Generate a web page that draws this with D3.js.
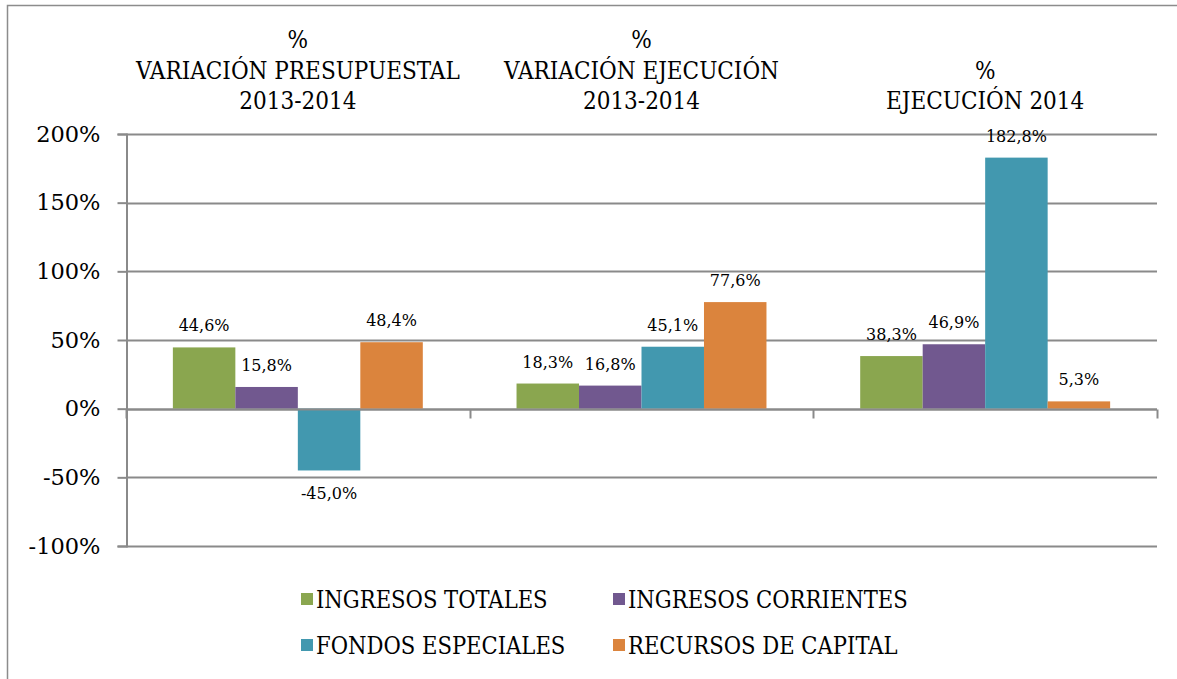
<!DOCTYPE html>
<html><head><meta charset="utf-8">
<script src="https://cdn.jsdelivr.net/npm/d3@7"></script>
<style>
html,body{margin:0;padding:0;background:#fff;}
svg{display:block;}
text{font-family:"DejaVu Serif Condensed","DejaVu Serif",serif;fill:#000;}
</style></head>
<body>
<svg id="chart" width="1177" height="679"></svg>
<script>
// ---- data ----
const categories = [
  ["%", "VARIACIÓN PRESUPUESTAL", "2013-2014"],
  ["%", "VARIACIÓN EJECUCIÓN", "2013-2014"],
  ["%", "EJECUCIÓN 2014"]
];
const seriesNames = ["INGRESOS TOTALES", "INGRESOS CORRIENTES", "FONDOS ESPECIALES", "RECURSOS DE CAPITAL"];
const seriesColors = ["#8AA64F", "#71588F", "#4298AF", "#DB843D"];
const ingresosTotales     = [44.6, 18.3, 38.3];
const ingresosCorrientes  = [15.8, 16.8, 46.9];
const fondosEspeciales    = [-45.0, 45.1, 182.8];
const recursosCapital     = [48.4, 77.6, 5.3];
const yTicks = [-100, -50, 0, 50, 100, 150, 200];

const seriesValues = [ingresosTotales, ingresosCorrientes, fondosEspeciales, recursosCapital];

const svg = d3.select("#chart");
const W = 1177, H = 679;
const plot = {left: 126, right: 1157, top: 134, bottom: 546};

// outer frame
svg.append("path")
  .attr("d", `M7.5,${H} L7.5,5.5 L${W},5.5`)
  .attr("fill", "none").attr("stroke", "#8C8C8C").attr("stroke-width", 1.5);

const y = d3.scaleLinear().domain([-100, 200]).range([plot.bottom, plot.top]);
const x0 = d3.scaleBand().domain(d3.range(categories.length)).range([plot.left, plot.right])
  .paddingInner(0).paddingOuter(0);
const bw = x0.bandwidth();
// Excel gap width 150%: band = 4*bar + 1.5*bar
const barW = bw / 5.5;
const x1 = d3.scaleBand().domain(d3.range(seriesNames.length))
  .range([barW*0.75, bw - barW*0.75]).padding(0);

const gridColor = "#8A8A8A";
const numFont = '"DejaVu Serif",serif';
const fmt = v => d3.format(".1f")(v).replace(".", ",").replace("\u2212", "-") + "%";

// gridlines
svg.append("g").selectAll("line").data(yTicks).join("line")
  .attr("x1", plot.left).attr("x2", plot.right)
  .attr("y1", d => Math.round(y(d)) + 0.5).attr("y2", d => Math.round(y(d)) + 0.5)
  .attr("stroke", gridColor).attr("stroke-width", 2);

// y axis
const yAxis = d3.axisLeft(y).tickValues(yTicks).tickSize(9).tickPadding(17)
  .tickFormat(d => d + "%");
const gy = svg.append("g").attr("transform", `translate(${plot.left + 0.5},0)`).call(yAxis);
gy.select(".domain").attr("stroke", gridColor).attr("stroke-width", 2);
gy.selectAll(".tick line").attr("stroke", gridColor).attr("stroke-width", 2);
gy.selectAll(".tick text")
  .style("font-family", numFont).style("font-size", "22.5px").attr("fill", "#000");

// bars
const groups = svg.append("g").selectAll("g").data(categories).join("g")
  .attr("transform", (d, i) => `translate(${x0(i)},0)`);

groups.each(function(cat, ci) {
  const g = d3.select(this);
  seriesValues.forEach((vals, si) => {
    const v = vals[ci];
    g.append("rect")
      .attr("x", x1(si)).attr("width", x1.bandwidth())
      .attr("y", y(Math.max(0, v))).attr("height", Math.abs(y(v) - y(0)))
      .attr("fill", seriesColors[si]);
    g.append("text")
      .attr("x", x1(si) + x1.bandwidth()/2)
      .attr("y", v >= 0 ? y(v) - 16 : y(v) + 29)
      .attr("text-anchor", "middle")
      .style("font-family", numFont).style("font-size", "16px")
      .text(fmt(v));
  });
});

// horizontal axis at 0 with category ticks
const y0 = Math.round(y(0)) + 0.5;
svg.append("line").attr("x1", plot.left).attr("x2", plot.right).attr("y1", y0).attr("y2", y0)
  .attr("stroke", gridColor).attr("stroke-width", 2);
const catBounds = d3.range(categories.length + 1).map(i => plot.left + i * bw);
svg.append("g").selectAll("line").data(catBounds).join("line")
  .attr("x1", d => Math.round(d) + 0.5).attr("x2", d => Math.round(d) + 0.5)
  .attr("y1", y0).attr("y2", y0 + 9)
  .attr("stroke", gridColor).attr("stroke-width", 2);

// category titles (bottom aligned)
const lineH = 30.5, lastBase = 109;
categories.forEach((lines, ci) => {
  const cx = x0(ci) + bw/2;
  lines.forEach((t, li) => {
    svg.append("text").attr("x", cx)
      .attr("y", lastBase - (lines.length - 1 - li) * lineH)
      .attr("text-anchor", "middle").style("font-size", "24px").text(t);
  });
});

// legend
const legendPos = [[301, 599], [613, 599], [301, 645], [613, 645]];
seriesNames.forEach((n, i) => {
  const [lx, ly] = legendPos[i];
  svg.append("rect").attr("x", lx).attr("y", ly - 6).attr("width", 12).attr("height", 12)
    .attr("fill", seriesColors[i]);
  svg.append("text").attr("x", lx + 15).attr("y", ly + 9).style("font-size", "23.5px").text(n);
});
</script>
</body></html>
